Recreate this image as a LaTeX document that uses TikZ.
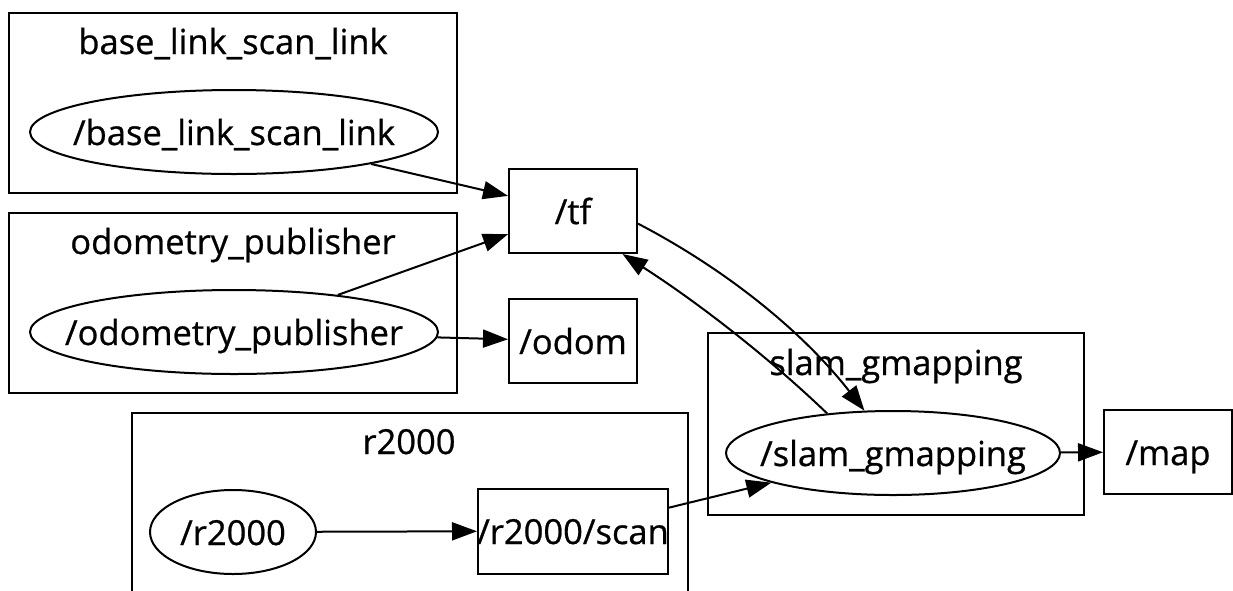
\documentclass[tikz,border=0pt]{standalone}
\usepackage{fontspec}
\setmainfont{Open Sans}
\usetikzlibrary{arrows.meta,shapes.geometric}
\begin{document}
\begin{tikzpicture}[x=1pt,y=-1pt,
  every node/.style={line width=2pt},
  cluster/.style={draw, line width=2pt},
  ell/.style={draw, ellipse, inner sep=0pt},
  box/.style={draw, rectangle, inner sep=0pt},
  lbl/.style={anchor=base, inner sep=0pt, font=\fontsize{34.5}{40}\selectfont\addfontfeature{FakeBold=0.7}},
  edge/.style={draw, line width=2pt, -{Triangle[length=25pt,width=18pt]}}
]
\useasboundingbox (0,0) rectangle (1233,590);
\fill[white] (0,0) rectangle (1233,590);
% clusters
\draw[cluster] (9,13) rectangle (457,193);
\node[lbl] (t1) at (233,54) {base\_link\_scan\_link};
\draw[cluster] (9,213) rectangle (457,393);
\node[lbl] (t2) at (233,254) {odometry\_publisher};
\draw[cluster] (132,592) -- (132,413) -- (688,413) -- (688,592);
\node[lbl] (t3) at (409,454) {r2000};
\draw[cluster] (708,333) rectangle (1084,515);
\node[lbl] (t4) at (896,375) {slam\_gmapping};
% nodes
\node[ell, minimum width=408pt, minimum height=84pt] (bl) at (234,132) {};
\node[lbl] (blt) at (234,145) {/base\_link\_scan\_link};
\node[ell, minimum width=408pt, minimum height=84pt] (op) at (234,332) {};
\node[lbl] (opt) at (234,345) {/odometry\_publisher};
\node[ell, minimum width=166pt, minimum height=84pt] (r) at (233,532) {};
\node[lbl] (rt) at (233,545) {/r2000};
\node[ell, minimum width=334pt, minimum height=84pt] (sg) at (893,453) {};
\node[lbl] (sgt) at (893,466) {/slam\_gmapping};
\node[box, minimum width=128pt, minimum height=84pt] (tf) at (573,211) {};
\node[lbl] (tft) at (573,224) {/tf};
\node[box, minimum width=128pt, minimum height=84pt] (odom) at (573,341) {};
\node[lbl] (odomt) at (573,354) {/odom};
\node[box, minimum width=190pt, minimum height=85pt] (scan) at (573,531) {};
\node[lbl] (scant) at (573,544) {/r2000/scan};
\node[box, minimum width=128pt, minimum height=84pt] (map) at (1168,452) {};
\node[lbl] (mapt) at (1168,465) {/map};
% edges
\draw[edge] (bl) -- (tf);
\draw[edge] (op) -- (tf);
\draw[edge] (op) -- (odom);
\draw[edge] (r) -- (scan);
\draw[edge] (scan) -- (sg);
\draw[edge] (sg) -- (map);
\draw[edge] (tf.-11) .. controls (727,270) and (803,332) .. (sg.124);
\draw[edge] (sg.149) .. controls (764,353) and (694,300) .. (tf.-41);
\end{tikzpicture}
\end{document}
